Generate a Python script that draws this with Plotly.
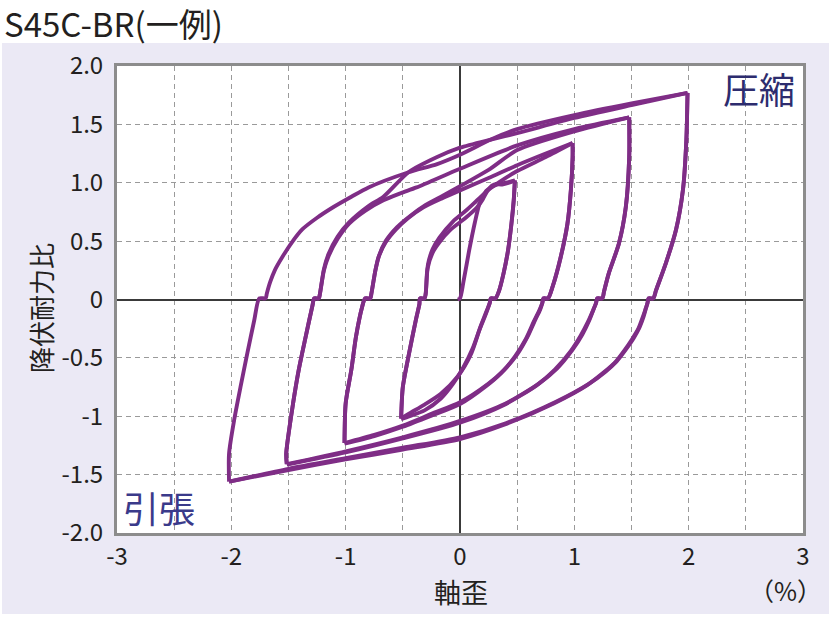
import plotly.graph_objects as go

# ---------------- data (strain %, yield-strength ratio) ----------------
load0_x = [-0.02, 0.0, 0.03, 0.08, 0.13, 0.17, 0.20, 0.23, 0.27, 0.33, 0.40, 0.48]
load0_y = [0.0, 0.01, 0.15, 0.42, 0.66, 0.82, 0.88, 0.93, 0.96, 0.985, 1.0, 1.02]

# unloading from compression peaks (incl. notch at zero)
unl_p05_x = [0.48, 0.47, 0.45, 0.42, 0.38, 0.34, 0.31, 0.27]
unl_p05_y = [1.02, 0.85, 0.65, 0.42, 0.22, 0.07, 0.01, 0.01]
unl_p10_x = [0.985, 0.985, 0.97, 0.94, 0.88, 0.81, 0.77, 0.73]
unl_p10_y = [1.34, 1.22, 0.94, 0.65, 0.36, 0.11, 0.01, 0.01]
unl_p15_x = [1.48, 1.48, 1.45, 1.39, 1.30, 1.26, 1.245, 1.20]
unl_p15_y = [1.56, 1.22, 0.79, 0.48, 0.22, 0.07, 0.01, 0.01]
unl_p20_x = [1.99, 1.98, 1.95, 1.89, 1.80, 1.715, 1.69, 1.65]
unl_p20_y = [1.77, 1.37, 0.94, 0.60, 0.31, 0.08, 0.01, 0.01]

# unloading from tension peaks (incl. notch at zero)
unl_m05_x = [-0.515, -0.50, -0.445, -0.385, -0.355, -0.35, -0.31]
unl_m05_y = [-1.02, -0.75, -0.46, -0.17, -0.04, 0.01, 0.01]
unl_m10_x = [-1.01, -1.0, -0.95, -0.91, -0.855, -0.83, -0.785]
unl_m10_y = [-1.23, -0.89, -0.60, -0.32, -0.06, 0.01, 0.01]
unl_m15_x = [-1.515, -1.52, -1.46, -1.41, -1.35, -1.29, -1.275, -1.235]
unl_m15_y = [-1.41, -1.32, -0.89, -0.60, -0.32, -0.05, 0.01, 0.01]
unl_m20_x = [-2.02, -2.02, -1.975, -1.92, -1.86, -1.80, -1.755, -1.70]
unl_m20_y = [-1.56, -1.32, -1.03, -0.75, -0.46, -0.18, 0.01, 0.01]

# tension branches
ten05a_x = [0.26, 0.22, 0.18, 0.10, -0.02, -0.17, -0.31, -0.45, -0.515]
ten05a_y = [-0.03, -0.13, -0.23, -0.46, -0.66, -0.81, -0.90, -0.98, -1.02]
ten05b_x = [0.26, 0.22, 0.17, 0.11, 0.03, -0.06, -0.17, -0.31, -0.44, -0.515]
ten05b_y = [-0.03, -0.14, -0.26, -0.42, -0.58, -0.72, -0.85, -0.95, -1.0, -1.025]
ten10a_x = [0.72, 0.70, 0.66, 0.59, 0.50, 0.38, 0.25, 0.0, -0.25, -0.50, -0.75, -1.01]
ten10a_y = [-0.03, -0.09, -0.17, -0.32, -0.47, -0.61, -0.72, -0.88, -0.98, -1.08, -1.16, -1.23]
ten10b_x = [0.72, 0.69, 0.645, 0.575, 0.48, 0.36, 0.23, 0.0, -0.25, -0.5, -0.75, -1.01]
ten10b_y = [-0.03, -0.10, -0.19, -0.34, -0.49, -0.63, -0.74, -0.895, -0.995, -1.09, -1.17, -1.235]
ten15a_x = [1.19, 1.17, 1.13, 1.07, 0.985, 0.85, 0.69, 0.40, 0.0, -0.5, -1.0, -1.515]
ten15a_y = [-0.03, -0.08, -0.18, -0.30, -0.43, -0.59, -0.72, -0.89, -1.04, -1.18, -1.30, -1.41]
ten15b_x = [1.19, 1.165, 1.12, 1.055, 0.97, 0.83, 0.67, 0.38, 0.0, -0.5, -1.0, -1.515]
ten15b_y = [-0.03, -0.09, -0.19, -0.31, -0.44, -0.60, -0.735, -0.905, -1.055, -1.19, -1.31, -1.415]
ten20a_x = [1.64, 1.625, 1.605, 1.57, 1.52, 1.45, 1.37, 1.27, 1.13, 0.84, 0.40, 0.0, -0.5, -1.0, -1.5, -2.02]
ten20a_y = [-0.03, -0.08, -0.15, -0.24, -0.33, -0.43, -0.53, -0.62, -0.72, -0.875, -1.06, -1.18, -1.27, -1.36, -1.45, -1.56]
ten20b_x = [1.64, 1.62, 1.595, 1.56, 1.505, 1.435, 1.355, 1.25, 1.11, 0.82, 0.38, 0.0, -0.5, -1.0, -1.5, -2.02]
ten20b_y = [-0.03, -0.09, -0.16, -0.25, -0.34, -0.44, -0.54, -0.63, -0.735, -0.89, -1.075, -1.195, -1.285, -1.37, -1.46, -1.56]

# compression reloading branches
com1a_x = [-0.30, -0.285, -0.24, -0.18, -0.08, 0.05, 0.15, 0.20, 0.24, 0.28, 0.32, 0.37, 0.43, 0.48]
com1a_y = [0.05, 0.26, 0.40, 0.49, 0.60, 0.70, 0.79, 0.86, 0.93, 0.975, 0.99, 0.985, 1.0, 1.02]
com1b_x = [-0.30, -0.28, -0.24, -0.18, -0.06, 0.05, 0.15, 0.25, 0.35, 0.5, 0.75, 0.985]
com1b_y = [0.05, 0.30, 0.43, 0.53, 0.67, 0.76, 0.85, 0.94, 1.01, 1.10, 1.22, 1.34]
com2a_x = [-0.775, -0.74, -0.71, -0.65, -0.56, -0.45, -0.32, -0.15, 0.0, 0.25, 0.5, 0.75, 0.985]
com2a_y = [0.05, 0.25, 0.37, 0.49, 0.60, 0.70, 0.79, 0.87, 0.935, 1.04, 1.15, 1.25, 1.34]
com2b_x = [-0.775, -0.74, -0.71, -0.65, -0.55, -0.43, -0.30, -0.15, 0.0, 0.25, 0.5, 1.0, 1.48]
com2b_y = [0.05, 0.25, 0.37, 0.50, 0.62, 0.72, 0.81, 0.89, 0.97, 1.11, 1.28, 1.44, 1.56]
com3a_x = [-1.225, -1.19, -1.15, -1.07, -0.97, -0.83, -0.67, -0.52, -0.38, 0.0, 0.5, 1.0, 1.48]
com3a_y = [0.05, 0.25, 0.37, 0.52, 0.65, 0.76, 0.85, 0.91, 0.96, 1.12, 1.32, 1.46, 1.56]
com3b_x = [-1.225, -1.19, -1.15, -1.07, -0.97, -0.80, -0.67, -0.45, -0.2, 0.0, 0.27, 0.5, 1.0, 1.5, 1.99]
com3b_y = [0.05, 0.26, 0.39, 0.54, 0.66, 0.80, 0.88, 1.09, 1.22, 1.30, 1.37, 1.425, 1.555, 1.665, 1.77]
com4_x = [-1.69, -1.66, -1.62, -1.55, -1.47, -1.38, -1.25, -1.11, -0.95, -0.80, -0.45, -0.2, 0.0, 0.27, 0.5, 1.0, 1.5, 1.99]
com4_y = [0.05, 0.15, 0.25, 0.37, 0.49, 0.60, 0.70, 0.79, 0.88, 0.96, 1.09, 1.16, 1.24, 1.37, 1.46, 1.58, 1.68, 1.77]

x_tickvals = [-3, -2.5, -2, -1.5, -1, -0.5, 0, 0.5, 1, 1.5, 2, 2.5, 3]
x_ticktext = ["-3", "", "-2", "", "-1", "", "0", "", "1", "", "2", "", "3"]
y_tickvals = [-2, -1.5, -1, -0.5, 0, 0.5, 1, 1.5, 2]
y_ticktext = ["-2.0", "-1.5", "-1", "-0.5", "0", "0.5", "1.0", "1.5", "2.0"]

# loading history: half cycles as (unloading part, reloading part)
half_cycles = [
    (None, (load0_x, load0_y)),
    ((unl_p05_x, unl_p05_y), (ten05a_x, ten05a_y)),
    ((unl_m05_x, unl_m05_y), (com1a_x, com1a_y)),
    ((unl_p05_x, unl_p05_y), (ten05b_x, ten05b_y)),
    ((unl_m05_x, unl_m05_y), (com1b_x, com1b_y)),
    ((unl_p10_x, unl_p10_y), (ten10a_x, ten10a_y)),
    ((unl_m10_x, unl_m10_y), (com2a_x, com2a_y)),
    ((unl_p10_x, unl_p10_y), (ten10b_x, ten10b_y)),
    ((unl_m10_x, unl_m10_y), (com2b_x, com2b_y)),
    ((unl_p15_x, unl_p15_y), (ten15a_x, ten15a_y)),
    ((unl_m15_x, unl_m15_y), (com3a_x, com3a_y)),
    ((unl_p15_x, unl_p15_y), (ten15b_x, ten15b_y)),
    ((unl_m15_x, unl_m15_y), (com3b_x, com3b_y)),
    ((unl_p20_x, unl_p20_y), (ten20a_x, ten20a_y)),
    ((unl_m20_x, unl_m20_y), (com4_x, com4_y)),
    ((unl_p20_x, unl_p20_y), (ten20b_x, ten20b_y)),
]

LINE_COLOR = "#7f2d86"
FONT = "Noto Sans CJK JP"

fig = go.Figure()
for unl, rel in half_cycles:
    xs, ys = [], []
    if unl is not None:
        xs += unl[0]
        ys += unl[1]
    xs += rel[0]
    ys += rel[1]
    fig.add_trace(go.Scatter(
        x=xs, y=ys, mode="lines",
        line=dict(color=LINE_COLOR, width=3.9, shape="spline", smoothing=0.7),
        hoverinfo="skip", showlegend=False))

L, R, T, B = 117, 28, 66, 84
W, H = 831, 617
pw, ph = W - L - R, H - T - B


def px(xp):
    return (xp - L) / pw


def py(yp):
    return (H - B - yp) / ph


fig.update_layout(
    width=W, height=H,
    margin=dict(l=L, r=R, t=T, b=B),
    paper_bgcolor="white", plot_bgcolor="white",
    showlegend=False,
    font=dict(family=FONT, color="#231f20"),
    shapes=[
        dict(type="rect", xref="paper", yref="paper", layer="below",
             x0=px(2), x1=px(829), y0=py(614), y1=py(43),
             fillcolor="#ebe9f5", line=dict(width=0)),
        dict(type="rect", xref="paper", yref="paper", layer="below",
             x0=0, x1=1, y0=0, y1=1, fillcolor="white", line=dict(width=0)),
    ],
    annotations=[
        dict(text="S45C-BR(一例)", xref="paper", yref="paper", x=px(2), y=py(23),
             xanchor="left", yanchor="middle", showarrow=False,
             font=dict(size=33, family=FONT, color="#231f20")),
        dict(text="降伏耐力比", xref="paper", yref="paper", x=px(40), y=py(308),
             xanchor="center", yanchor="middle", textangle=-90, showarrow=False,
             font=dict(size=26, family=FONT, color="#231f20")),
        dict(text="軸歪", xref="paper", yref="paper", x=px(461), y=py(591),
             xanchor="center", yanchor="middle", showarrow=False,
             font=dict(size=27, family=FONT, color="#231f20")),
        dict(text="（%）", xref="paper", yref="paper", x=px(785), y=py(590),
             xanchor="center", yanchor="middle", showarrow=False,
             font=dict(size=25, family=FONT, color="#231f20")),
        dict(text="圧縮", xref="paper", yref="paper", x=px(759), y=py(88),
             xanchor="center", yanchor="middle", showarrow=False,
             font=dict(size=36, family=FONT, color="#2d2c6e")),
        dict(text="引張", xref="paper", yref="paper", x=px(159), y=py(507),
             xanchor="center", yanchor="middle", showarrow=False,
             font=dict(size=36, family=FONT, color="#3a3a8a")),
    ],
)

axis_common = dict(
    showline=True, mirror=True, linewidth=3, linecolor="#8c8c8c",
    showgrid=True, gridcolor="#9a9a9a", gridwidth=1, griddash="5px,4px",
    zeroline=True, zerolinecolor="#3a3a3a", zerolinewidth=1.6,
    ticks="", tickfont=dict(size=24, family=FONT, color="#231f20"),
    fixedrange=True,
)
fig.update_xaxes(range=[-3, 3], tickvals=x_tickvals, ticktext=x_ticktext,
                 ticklabelstandoff=0, **axis_common)
fig.update_yaxes(range=[-2, 2], tickvals=y_tickvals, ticktext=y_ticktext,
                 ticklabelstandoff=6, **axis_common)

fig.write_html("out.html", config={"displayModeBar": False},
               post_script="document.body.style.margin='0';document.body.style.padding='0';")
